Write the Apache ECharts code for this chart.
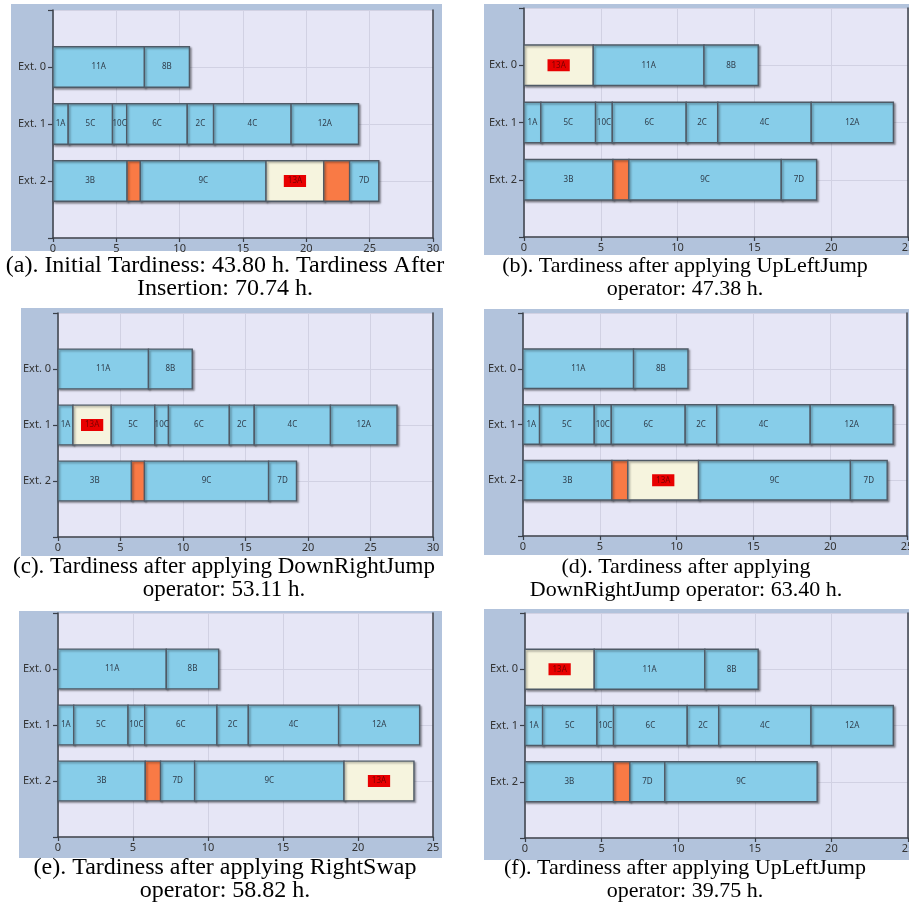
<!DOCTYPE html>
<html>
<head>
<meta charset="utf-8">
<script src="https://cdn.jsdelivr.net/npm/echarts@6/dist/echarts.min.js"></script>
<style>
  html, body { margin: 0; padding: 0; background: #ffffff; }
  #chart { width: 909px; height: 916px; }
</style>
</head>
<body>
<div id="chart"></div>
<script>
// Extraction lines shown on every schedule
const rowNames = ['Ext. 0', 'Ext. 1', 'Ext. 2'];
// The job that was inserted into the schedule
const insertedJob = '13A';

// Each job: [row, start (h), end (h), name]; an empty name is an idle gap
const jobsA = [
  [0, 0, 7.22, '11A'], [0, 7.22, 10.77, '8B'],
  [1, 0, 1.2, '1A'], [1, 1.2, 4.7, '5C'], [1, 4.7, 5.82, '10C'], [1, 5.82, 10.6, '6C'],
  [1, 10.6, 12.68, '2C'], [1, 12.68, 18.8, '4C'], [1, 18.8, 24.12, '12A'],
  [2, 0, 5.85, '3B'], [2, 5.85, 6.9, ''], [2, 6.9, 16.82, '9C'], [2, 16.82, 21.38, '13A'],
  [2, 21.38, 23.42, ''], [2, 23.42, 25.72, '7D']
];
const jobsB = [
  [0, 0, 4.51, '13A'], [0, 4.51, 11.72, '11A'], [0, 11.72, 15.25, '8B'],
  [1, 0, 1.1, '1A'], [1, 1.1, 4.66, '5C'], [1, 4.66, 5.75, '10C'], [1, 5.75, 10.56, '6C'],
  [1, 10.56, 12.62, '2C'], [1, 12.62, 18.7, '4C'], [1, 18.7, 24.05, '12A'],
  [2, 0, 5.79, '3B'], [2, 5.79, 6.83, ''], [2, 6.83, 16.75, '9C'], [2, 16.75, 19.05, '7D']
];
const jobsC = [
  [0, 0, 7.24, '11A'], [0, 7.24, 10.74, '8B'],
  [1, 0, 1.2, '1A'], [1, 1.2, 4.26, '13A'], [1, 4.26, 7.75, '5C'], [1, 7.75, 8.84, '10C'],
  [1, 8.84, 13.71, '6C'], [1, 13.71, 15.7, '2C'], [1, 15.7, 21.8, '4C'], [1, 21.8, 27.12, '12A'],
  [2, 0, 5.88, '3B'], [2, 5.88, 6.92, ''], [2, 6.92, 16.85, '9C'], [2, 16.85, 19.08, '7D']
];
const jobsD = [
  [0, 0, 7.2, '11A'], [0, 7.2, 10.74, '8B'],
  [1, 0, 1.08, '1A'], [1, 1.08, 4.64, '5C'], [1, 4.64, 5.75, '10C'], [1, 5.75, 10.56, '6C'],
  [1, 10.56, 12.62, '2C'], [1, 12.62, 18.7, '4C'], [1, 18.7, 24.1, '12A'],
  [2, 0, 5.79, '3B'], [2, 5.79, 6.83, ''], [2, 6.83, 11.43, '13A'], [2, 11.43, 21.32, '9C'],
  [2, 21.32, 23.71, '7D']
];
const jobsE = [
  [0, 0, 7.22, '11A'], [0, 7.22, 10.71, '8B'],
  [1, 0, 1.05, '1A'], [1, 1.05, 4.67, '5C'], [1, 4.67, 5.78, '10C'], [1, 5.78, 10.6, '6C'],
  [1, 10.6, 12.69, '2C'], [1, 12.69, 18.71, '4C'], [1, 18.71, 24.11, '12A'],
  [2, 0, 5.82, '3B'], [2, 5.82, 6.84, ''], [2, 6.84, 9.11, '7D'], [2, 9.11, 19.07, '9C'],
  [2, 19.07, 23.73, '13A']
];
const jobsF = [
  [0, 0, 4.52, '13A'], [0, 4.52, 11.74, '11A'], [0, 11.74, 15.22, '8B'],
  [1, 0, 1.15, '1A'], [1, 1.15, 4.7, '5C'], [1, 4.7, 5.78, '10C'], [1, 5.78, 10.59, '6C'],
  [1, 10.59, 12.65, '2C'], [1, 12.65, 18.67, '4C'], [1, 18.67, 24.04, '12A'],
  [2, 0, 5.78, '3B'], [2, 5.78, 6.85, ''], [2, 6.85, 9.13, '7D'], [2, 9.13, 19.07, '9C']
];

// Upper end of the time axis of each schedule
const axisMax = [30, 25, 30, 25, 25, 25];

const captions = [
  ['(a). Initial Tardiness: 43.80 h. Tardiness After', 'Insertion: 70.74 h.'],
  ['(b). Tardiness after applying UpLeftJump', 'operator: 47.38 h.'],
  ['(c). Tardiness after applying DownRightJump', 'operator: 53.11 h.'],
  ['(d). Tardiness after applying', 'DownRightJump operator: 63.40 h.'],
  ['(e). Tardiness after applying RightSwap', 'operator: 58.82 h.'],
  ['(f). Tardiness after applying UpLeftJump', 'operator: 39.75 h.']
];

const schedules = [jobsA, jobsB, jobsC, jobsD, jobsE, jobsF];

// Panel geometry: plot area, surrounding frame, caption centre and size (px)
const layout = [
  { plot: [53, 10, 380, 228],  frame: [11, 4, 431, 247],   cap: [225, 266, 24] },
  { plot: [524, 8, 384, 229],  frame: [484, 4, 425, 251],  cap: [685, 266, 22] },
  { plot: [58, 313, 375, 224], frame: [21, 308, 422, 248], cap: [224, 567, 23] },
  { plot: [523, 313, 384, 223], frame: [484, 309, 425, 246], cap: [686, 567, 22] },
  { plot: [58, 613, 375, 224], frame: [19, 611, 423, 247], cap: [225, 868, 24] },
  { plot: [525, 613, 383, 225], frame: [484, 609, 425, 251], cap: [685, 868, 22] }
];

const COLORS = {
  frame: '#b2c3dc',
  plot: '#e6e6f6',
  grid: '#d1d1e3',
  axis: '#3a3f48',
  job: '#87cde9',
  idle: '#f97a45',
  inserted: '#f6f4de',
  insertedTag: '#e80000',
  border: '#4f5a66',
  text: '#2f3c4a'
};

function makeRenderer(jobs) {
  return function (params, api) {
    const row = api.value(0);
    const p0 = api.coord([api.value(1), row]);
    const p1 = api.coord([api.value(2), row]);
    const h = api.size([0, 1])[1] * 0.71;
    const name = jobs[params.dataIndex][3];
    let fill = COLORS.job;
    if (name === '') fill = COLORS.idle;
    else if (name === insertedJob) fill = COLORS.inserted;
    const el = {
      type: 'rect',
      shape: { x: p0[0], y: p0[1] - h / 2, width: p1[0] - p0[0], height: h },
      style: {
        fill: fill,
        stroke: COLORS.border,
        lineWidth: 1.4,
        shadowBlur: 2,
        shadowOffsetX: 1.5,
        shadowOffsetY: 1.5,
        shadowColor: 'rgba(0,0,0,0.35)'
      }
    };
    if (name !== '') {
      const tagged = name === insertedJob;
      el.textContent = {
        style: {
          text: name,
          fill: tagged ? '#7a0000' : COLORS.text,
          font: '8px "Noto Sans", sans-serif',
          backgroundColor: tagged ? COLORS.insertedTag : 'transparent',
          padding: tagged ? [2, 4] : 0
        }
      };
      el.textConfig = { position: 'inside' };
    }
    return el;
  };
}

const grid = [], xAxis = [], yAxis = [], series = [], graphic = [];

layout.forEach((L, i) => {
  graphic.push({
    type: 'rect', z: -5,
    shape: { x: L.frame[0], y: L.frame[1], width: L.frame[2], height: L.frame[3] },
    style: { fill: COLORS.frame }
  });
  captions[i].forEach((line, k) => {
    graphic.push({
      type: 'text', z: 5,
      x: L.cap[0], y: L.cap[1] + k * 23,
      style: {
        text: line,
        font: L.cap[2] + 'px "Liberation Serif", "Times New Roman", serif',
        fill: '#000',
        align: 'center',
        verticalAlign: 'middle'
      }
    });
  });

  grid.push({
    left: L.plot[0], top: L.plot[1], width: L.plot[2], height: L.plot[3],
    outerBoundsMode: 'none', containLabel: false,
    show: true, backgroundColor: COLORS.plot, borderWidth: 0
  });

  xAxis.push({
    gridIndex: i, type: 'value', min: 0, max: axisMax[i], interval: 5,
    axisLine: { show: true, onZero: false, lineStyle: { color: COLORS.axis, width: 1.5 } },
    axisTick: { show: true, length: 4, lineStyle: { color: COLORS.axis, width: 1.2 } },
    axisLabel: { color: '#333', fontSize: 11, margin: 5, fontFamily: 'Noto Sans' },
    splitLine: { show: true, lineStyle: { color: COLORS.grid, width: 1 } }
  });

  yAxis.push({
    gridIndex: i, type: 'value', min: -1, max: 3, interval: 1, inverse: true,
    axisLine: { show: true, onZero: false, lineStyle: { color: COLORS.axis, width: 1.5 } },
    axisTick: { show: true, length: 5, lineStyle: { color: COLORS.axis, width: 1.2 } },
    axisLabel: {
      color: '#333', fontSize: 11, margin: 7, fontFamily: 'Noto Sans',
      formatter: v => (rowNames[v] !== undefined ? rowNames[v] : '')
    },
    splitLine: { show: true, lineStyle: { color: COLORS.grid, width: 1 } }
  });
  // right-hand border of the plot area
  yAxis.push({
    gridIndex: i, type: 'value', min: -1, max: 3, position: 'right',
    axisLine: { show: true, onZero: false, lineStyle: { color: COLORS.axis, width: 1.5 } },
    axisTick: { show: false }, axisLabel: { show: false }, splitLine: { show: false }
  });

  series.push({
    type: 'custom',
    xAxisIndex: i,
    yAxisIndex: i * 2,
    renderItem: makeRenderer(schedules[i]),
    encode: { x: [1, 2], y: 0 },
    data: schedules[i],
    silent: true,
    animation: false
  });
});

const chart = echarts.init(document.getElementById('chart'), null, { renderer: 'canvas' });
chart.setOption({
  animation: false,
  backgroundColor: '#ffffff',
  grid: grid,
  xAxis: xAxis,
  yAxis: yAxis,
  series: series,
  graphic: graphic
});
</script>
</body>
</html>
